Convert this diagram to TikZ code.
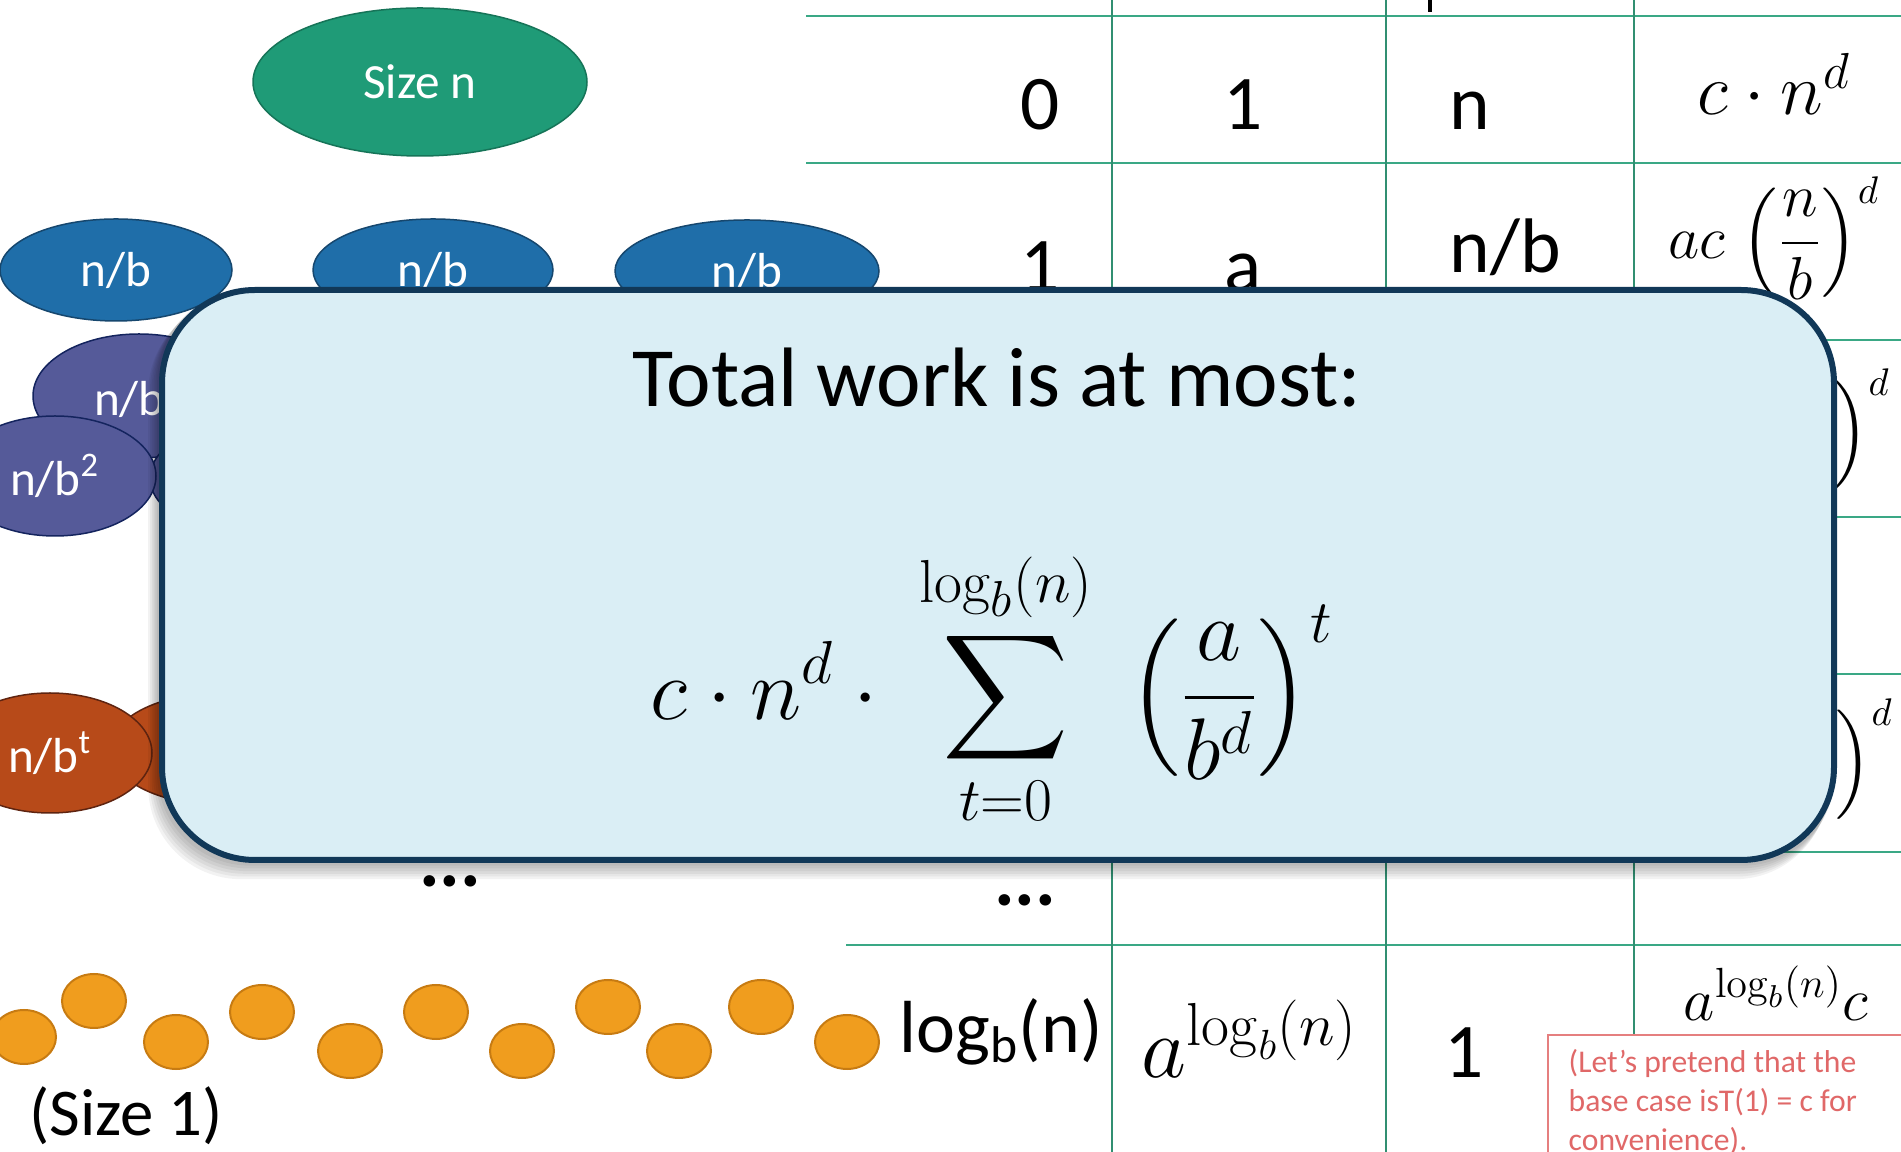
\documentclass[tikz,border=0pt]{standalone}
\usepackage{amsmath}
\usepackage[no-math]{fontspec}
\setmainfont{Carlito}
\usetikzlibrary{shapes.geometric}

\definecolor{sizegreen}{HTML}{1F9B77}
\definecolor{sizegreenline}{HTML}{167458}
\definecolor{nbblue}{HTML}{1F6EA9}
\definecolor{nbblueline}{HTML}{16476E}
\definecolor{nbpurple}{HTML}{555A99}
\definecolor{nbpurpleline}{HTML}{14245E}
\definecolor{nbrust}{HTML}{B74A19}
\definecolor{nbrustline}{HTML}{5E2410}
\definecolor{leaforange}{HTML}{F09D1E}
\definecolor{leafline}{HTML}{C77B12}
\definecolor{gridgreen}{HTML}{3AA885}
\definecolor{boxfill}{HTML}{DAEEF5}
\definecolor{boxline}{HTML}{113858}
\definecolor{notered}{HTML}{E06868}

\begin{document}
\begin{tikzpicture}[
  x=0.1mm, y=-0.1mm,
  prob/.style={ellipse, draw, line width=0.15mm, inner sep=0pt, text=white,
               font=\fontsize{14}{16}\selectfont},
  leaf/.style={ellipse, draw=leafline, fill=leaforange, line width=0.2mm,
               minimum width=6.4mm, minimum height=5.4mm, inner sep=0pt},
  cell/.style={inner sep=0pt, font=\fontsize{22}{26}\selectfont},
  mcell/.style={inner sep=0pt, font=\fontsize{20}{24}\selectfont},
  fcell/.style={inner sep=0pt, font=\fontsize{16}{20}\selectfont},
  hline/.style={draw=gridgreen, line width=0.28mm},
  vline/.style={draw=gridgreen!85!black, line width=0.16mm}
]
\clip (0,0) rectangle (1901,1152);

% table grid
\foreach \yy/\xs in {16/806,163/806,340/806,517/806,674/806,852/806,945/846}
  \draw[hline] (\xs,\yy) -- (1901,\yy);
\foreach \xx in {1112,1386,1634}
  \draw[vline] (\xx,0) -- (\xx,1152);
\fill (1428,0) rectangle (1432,12);

% level 0
\node[cell, anchor=base] (lev0) at (1040,130) {0};
\node[cell, anchor=base] (num0) at (1243,130) {1};
\node[cell, anchor=base west] (size0) at (1449,130) {n};
\node[mcell] (work0) at (1774,84) {$c\cdot n^d$};
% level 1
\node[cell, anchor=base] (lev1) at (1040,292) {1};
\node[cell, anchor=base] (num1) at (1243,292) {a};
\node[cell, anchor=base west] (size1) at (1449,273) {n/b};
\node[fcell] (work1) at (1774,238) {$ac\;\Bigl(\dfrac{n}{b}\Bigr)^{d}$};
% level 2 and level t
\node[fcell, anchor=east] (work2) at (1891,430) {$a^2c\;\Bigl(\dfrac{n}{b^2}\Bigr)^{d}$};
\node[fcell, anchor=east] (workt) at (1894,760) {$a^tc\;\Bigl(\dfrac{n}{b^t}\Bigr)^{d}$};
\node[cell, font=\fontsize{22}{26}\selectfont\bfseries] (levdots) at (1025,900) {...};
% last level
\node[cell, font=\fontsize{21}{25}\selectfont, anchor=base] (levlast) at (1001,1052) {log\textsubscript{b}(n)};
\node[cell, font=\fontsize{24}{28}\selectfont, anchor=base] (numlast) at (1250,1077) {$a^{\log_b(n)}$};
\node[cell, anchor=base] (sizelast) at (1464,1077) {1};
\node[cell, font=\fontsize{18}{22}\selectfont, anchor=base] (worklast) at (1776,1020) {$a^{\log_b(n)}c$};

% recursion tree
\node[prob, fill=sizegreen, draw=sizegreenline, minimum width=33.4mm, minimum height=14.8mm] (sizen) at (420,82) {Size n};
\node[prob, fill=nbblue, draw=nbblueline, minimum width=23.2mm, minimum height=10.2mm] (nbA) at (116,270) {n/b};
\node[prob, fill=nbblue, draw=nbblueline, minimum width=24mm, minimum height=10.2mm] (nbB) at (433,270) {n/b};
\node[prob, fill=nbblue, draw=nbblueline, minimum width=26.4mm, minimum height=10.2mm] (nbC) at (747,271) {n/b};
\node[prob, fill=nbpurple, draw=nbpurpleline, minimum width=21.2mm, minimum height=12.4mm] (nbbB) at (139,396) {n/b\textsuperscript{2}};
\node[prob, fill=nbpurple, draw=nbpurpleline, minimum width=21mm, minimum height=11.6mm] (nbbC) at (255,478) {};
\node[prob, fill=nbpurple, draw=nbpurpleline, minimum width=20.2mm, minimum height=12mm] (nbbA) at (55,476) {n/b\textsuperscript{2}};
\node[prob, fill=nbrust, draw=nbrustline, minimum width=22mm, minimum height=11.2mm] (nbtB) at (220,749) {};
\node[prob, fill=nbrust, draw=nbrustline, minimum width=20.4mm, minimum height=12mm] (nbtA) at (50,753) {n/b\textsuperscript{t}};
\node[cell, font=\fontsize{22}{26}\selectfont\bfseries] (treedots) at (450,881) {...};

% leaves
\foreach \lx/\ly [count=\i] in {24/1037,94/1001,176/1042,262/1012,350/1051,436/1012,
                                522/1051,608/1007,679/1051,761/1007,847/1042}
  \node[leaf] (leaf\i) at (\lx,\ly) {};
\node[cell, font=\fontsize{19}{23}\selectfont, anchor=base] (sizeone) at (126,1135) {(Size 1)};

% summary box
\foreach \s in {3,6,...,18}
  \fill[black, opacity=0.05, rounded corners=9.3mm] (159-\s*0.6,287+\s*0.7) rectangle (1837-\s*0.5,863+\s*0.9);
\node[draw=boxline, fill=boxfill, line width=0.6mm, rounded corners=9.3mm,
      minimum width=167.2mm, minimum height=57mm] (totbox) at (998,575) {};
\node[font=\fontsize{24}{28}\selectfont, anchor=base] (tottitle) at (997,407) {Total work is at most:};
\node[font=\fontsize{27}{31}\selectfont] (totsum) at (992,689)
  {$\displaystyle c\cdot n^d\cdot\ \sum_{t=0}^{\log_b(n)}\ \left(\frac{a}{b^d}\right)^{t}$};

% note
\node[draw=notered!85, fill=white, line width=0.2mm, minimum width=40mm, minimum height=15mm,
      anchor=north west] (notebox) at (1547,1034) {};
\node[anchor=north west, align=left, text=notered, inner sep=0pt,
      font=\fontsize{9}{11.1}\selectfont] (notetext) at (1568,1049)
  {(Let’s pretend that the\\base case isT(1) = c for\\convenience).};
\end{tikzpicture}
\end{document}
